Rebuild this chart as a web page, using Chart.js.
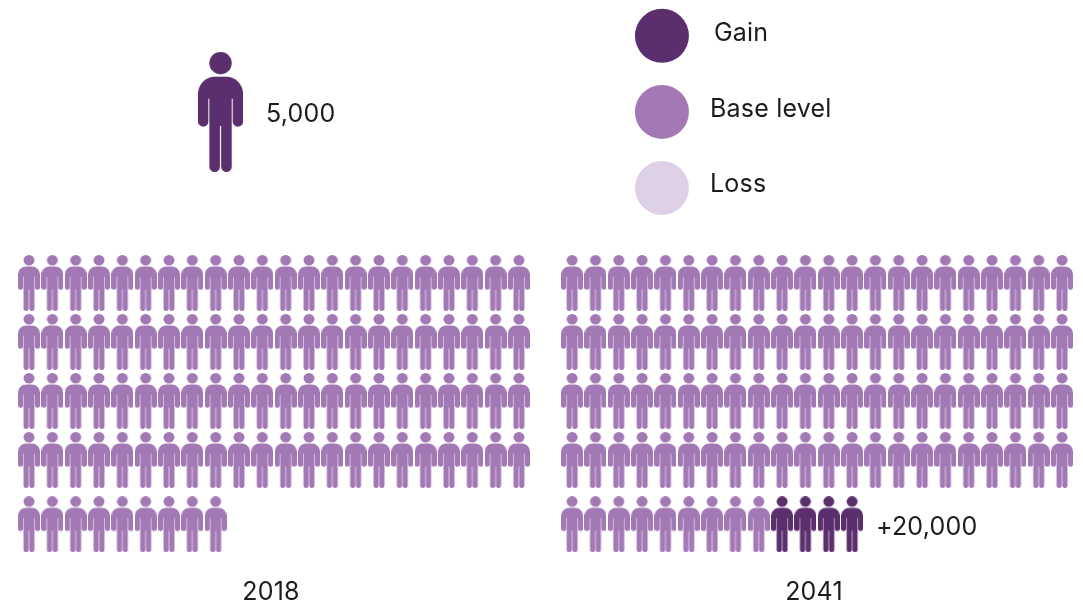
<!DOCTYPE html>
<html>
<head>
<meta charset="utf-8">
<style>
  html, body { margin: 0; background: #fff; }
  canvas { display: block; }
</style>
<script src="https://cdn.jsdelivr.net/npm/chart.js@4"></script>
</head>
<body>
<canvas id="pictogram" width="1083" height="606"></canvas>
<script>
// Data
const years = ['2018', '2041'];
const baseLevel = [485000, 485000];
const gain = [0, 20000];
const loss = [0, 0];
const legendNames = ['Gain', 'Base level', 'Loss'];
const personValue = 5000;
const perRow = 22;

// Colours
const darkPurple = '#5b2e6e';
const midPurple = '#a278b5';
const lightPurple = '#ded1e6';
const textColor = '#1c1c1c';
const fontName = 'Inter, "Open Sans", sans-serif';

// Layout: one x unit is a person column, one y unit is a person row
const colPx = 23.33;
const rowPx = 59;
const originX = 29;
const originY = 283;
const panelOffset = 23.28;   // second block starts this many columns to the right
const lastRowY = 4.09;       // last row sits a bit lower than the others

// Person icon, drawn on a 45 x 120 grid and scaled
function makePerson(color, w, h) {
  const c = document.createElement('canvas');
  c.width = w;
  c.height = h;
  const g = c.getContext('2d');
  g.scale(w / 45, h / 120);
  g.fillStyle = color;
  g.beginPath();
  g.arc(22.5, 11.2, 11.2, 0, Math.PI * 2);
  g.fill();
  g.beginPath();
  g.roundRect(0, 24.7, 45, 22, [17, 17, 0, 0]);
  g.roundRect(0, 40, 10.3, 34.7, [0, 0, 5, 5]);
  g.roundRect(34.7, 40, 10.3, 34.7, [0, 0, 5, 5]);
  g.rect(11.3, 40, 22.4, 34);
  g.roundRect(11.3, 70, 10.6, 50, [0, 0, 5.3, 5.3]);
  g.roundRect(23.1, 70, 10.6, 50, [0, 0, 5.3, 5.3]);
  g.fill();
  return c;
}

const smallBase = makePerson(midPurple, 22, 56);
const smallGain = makePerson(darkPurple, 22, 56);
const smallLoss = makePerson(lightPurple, 22, 56);
const bigPerson = makePerson(darkPurple, 45, 120);

// Turn a year's values into grid cells, filling after the people already placed
function personCells(yearIndex, value, startAt) {
  const cells = [];
  const count = value / personValue;
  for (let i = startAt; i < startAt + count; i++) {
    const row = Math.floor(i / perRow);
    cells.push({
      x: (i % perRow) + yearIndex * panelOffset,
      y: row === 4 ? lastRowY : row
    });
  }
  return cells;
}

const basePoints = [];
const gainPoints = [];
const lossPoints = [];
years.forEach((year, i) => {
  const baseCount = baseLevel[i] / personValue;
  basePoints.push(...personCells(i, baseLevel[i], 0));
  gainPoints.push(...personCells(i, gain[i], baseCount));
  lossPoints.push(...personCells(i, loss[i], baseCount));
});

// Text drawn on top of the chart
const notes = [
  { text: '5,000', x: 266, y: 114, align: 'left' },
  { text: legendNames[0], x: 714, y: 33, align: 'left' },
  { text: legendNames[1], x: 710, y: 109, align: 'left' },
  { text: legendNames[2], x: 710, y: 184, align: 'left' },
  { text: '+20,000', x: 876, y: 527, align: 'left' },
  { text: years[0], x: 271, y: 592, align: 'center' },
  { text: years[1], x: 814, y: 592, align: 'center' }
];

const notesPlugin = {
  id: 'notes',
  afterDatasetsDraw(chart) {
    const c = chart.ctx;
    c.save();
    c.fillStyle = textColor;
    c.font = '25px ' + fontName;
    c.letterSpacing = '0.2px';
    c.textBaseline = 'middle';
    notes.forEach(n => {
      c.textAlign = n.align;
      c.fillText(n.text, n.x, n.y);
    });
    c.restore();
  }
};

const chart = new Chart(document.getElementById('pictogram').getContext('2d'), {
  type: 'scatter',
  data: {
    datasets: [
      { label: 'Base level', data: basePoints, pointStyle: smallBase },
      { label: 'Gain', data: gainPoints, pointStyle: smallGain },
      { label: 'Loss', data: lossPoints, pointStyle: smallLoss },
      { label: 'Unit', data: [{ x: 8.21, y: -2.9 }], pointStyle: bigPerson },
      {
        label: 'Key',
        data: [{ x: 27.13, y: -4.19 }, { x: 27.13, y: -2.9 }, { x: 27.13, y: -1.61 }],
        pointStyle: 'circle',
        pointRadius: 27,
        borderWidth: 0,
        pointBackgroundColor: [darkPurple, midPurple, lightPurple]
      }
    ]
  },
  options: {
    responsive: false,
    animation: false,
    layout: { padding: 0, autoPadding: false },
    scales: {
      x: { display: false, bounds: 'data', min: -originX / colPx, max: (1083 - originX) / colPx },
      y: { display: false, bounds: 'data', reverse: true, min: -originY / rowPx, max: (606 - originY) / rowPx }
    },
    plugins: {
      legend: { display: false },
      tooltip: { enabled: false }
    }
  },
  plugins: [notesPlugin]
});
</script>
</body>
</html>
